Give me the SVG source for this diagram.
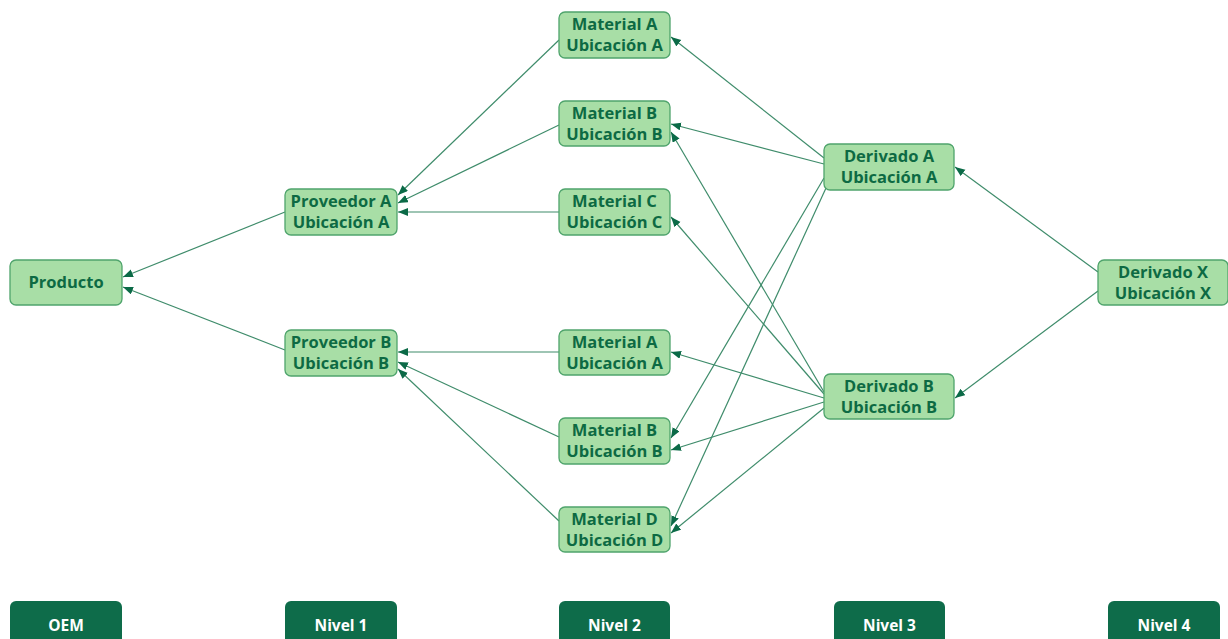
<svg xmlns="http://www.w3.org/2000/svg" width="1228" height="639" viewBox="0 0 1228 639">
<style>
.n rect{fill:#a8dea6;stroke:#4fa46c;stroke-width:1.3}
.n text{font-family:"Open Sans","Noto Sans",sans-serif;font-weight:700;font-size:16.5px;fill:#0d6a43;text-anchor:middle}
.l rect{fill:#0e6c4a}
.l text{font-family:"Open Sans","Noto Sans",sans-serif;font-weight:700;font-size:15.5px;fill:#ffffff;text-anchor:middle}
.c line{stroke:#3f8c6b;stroke-width:1.2;marker-end:url(#ah)}
</style>
<defs>
<marker id="ah" markerUnits="userSpaceOnUse" markerWidth="12" markerHeight="10" refX="10" refY="4" orient="auto">
<path d="M0,0 L10,4 L0,8 Z" fill="#0b6a47"/>
</marker>
</defs>
<rect width="1228" height="639" fill="#ffffff"/>
<g id="connectors" class="c">
<line x1="285" y1="212" x2="123" y2="277"/>
<line x1="285" y1="350" x2="123" y2="287"/>
<line x1="559" y1="40" x2="398" y2="195"/>
<line x1="559" y1="125" x2="398" y2="203"/>
<line x1="559" y1="212" x2="398" y2="212"/>
<line x1="559" y1="352" x2="398" y2="352"/>
<line x1="559" y1="437" x2="398" y2="362"/>
<line x1="559" y1="521" x2="398" y2="369"/>
<line x1="824" y1="158" x2="671" y2="37"/>
<line x1="824" y1="164" x2="671" y2="124"/>
<line x1="824" y1="178" x2="671" y2="438"/>
<line x1="826" y1="188" x2="671" y2="526"/>
<line x1="824" y1="392" x2="671" y2="132"/>
<line x1="824" y1="394" x2="671" y2="217"/>
<line x1="824" y1="398" x2="671" y2="352"/>
<line x1="824" y1="402" x2="671" y2="450"/>
<line x1="824" y1="408" x2="671" y2="533"/>
<line x1="1098" y1="272" x2="955" y2="167"/>
<line x1="1098" y1="291" x2="955" y2="398"/>
</g>
<g id="producto" class="n"><rect x="10" y="260" width="112" height="45" rx="6"/><text x="66" y="288">Producto</text></g>
<g id="proveedorA" class="n"><rect x="285" y="189" width="112" height="46" rx="6"/><text x="341" y="207">Proveedor A</text><text x="341" y="228">Ubicación A</text></g>
<g id="proveedorB" class="n"><rect x="285" y="330" width="112" height="46" rx="6"/><text x="341" y="348">Proveedor B</text><text x="341" y="369">Ubicación B</text></g>
<g id="materialA1" class="n"><rect x="559" y="12" width="111" height="46" rx="6"/><text x="614.5" y="30">Material A</text><text x="614.5" y="51">Ubicación A</text></g>
<g id="materialB1" class="n"><rect x="559" y="101" width="111" height="45" rx="6"/><text x="614.5" y="119">Material B</text><text x="614.5" y="140">Ubicación B</text></g>
<g id="materialC" class="n"><rect x="559" y="189" width="111" height="46" rx="6"/><text x="614.5" y="207">Material C</text><text x="614.5" y="228">Ubicación C</text></g>
<g id="materialA2" class="n"><rect x="559" y="330" width="111" height="45" rx="6"/><text x="614.5" y="348">Material A</text><text x="614.5" y="369">Ubicación A</text></g>
<g id="materialB2" class="n"><rect x="559" y="418" width="111" height="46" rx="6"/><text x="614.5" y="436">Material B</text><text x="614.5" y="457">Ubicación B</text></g>
<g id="materialD" class="n"><rect x="559" y="507" width="111" height="45" rx="6"/><text x="614.5" y="525">Material D</text><text x="614.5" y="546">Ubicación D</text></g>
<g id="derivadoA" class="n"><rect x="824" y="144" width="130" height="46" rx="6"/><text x="889" y="162">Derivado A</text><text x="889" y="183">Ubicación A</text></g>
<g id="derivadoB" class="n"><rect x="824" y="374" width="130" height="45" rx="6"/><text x="889" y="392">Derivado B</text><text x="889" y="413">Ubicación B</text></g>
<g id="derivadoX" class="n"><rect x="1098" y="260" width="130" height="45" rx="6"/><text x="1163" y="278">Derivado X</text><text x="1163" y="299">Ubicación X</text></g>
<g id="oem" class="l"><rect x="10" y="601" width="112" height="48" rx="6"/><text x="66" y="631">OEM</text></g>
<g id="nivel1" class="l"><rect x="285" y="601" width="112" height="48" rx="6"/><text x="341" y="631">Nivel 1</text></g>
<g id="nivel2" class="l"><rect x="559" y="601" width="111" height="48" rx="6"/><text x="614.5" y="631">Nivel 2</text></g>
<g id="nivel3" class="l"><rect x="834" y="601" width="111" height="48" rx="6"/><text x="889.5" y="631">Nivel 3</text></g>
<g id="nivel4" class="l"><rect x="1108" y="601" width="112" height="48" rx="6"/><text x="1164" y="631">Nivel 4</text></g>
</svg>
